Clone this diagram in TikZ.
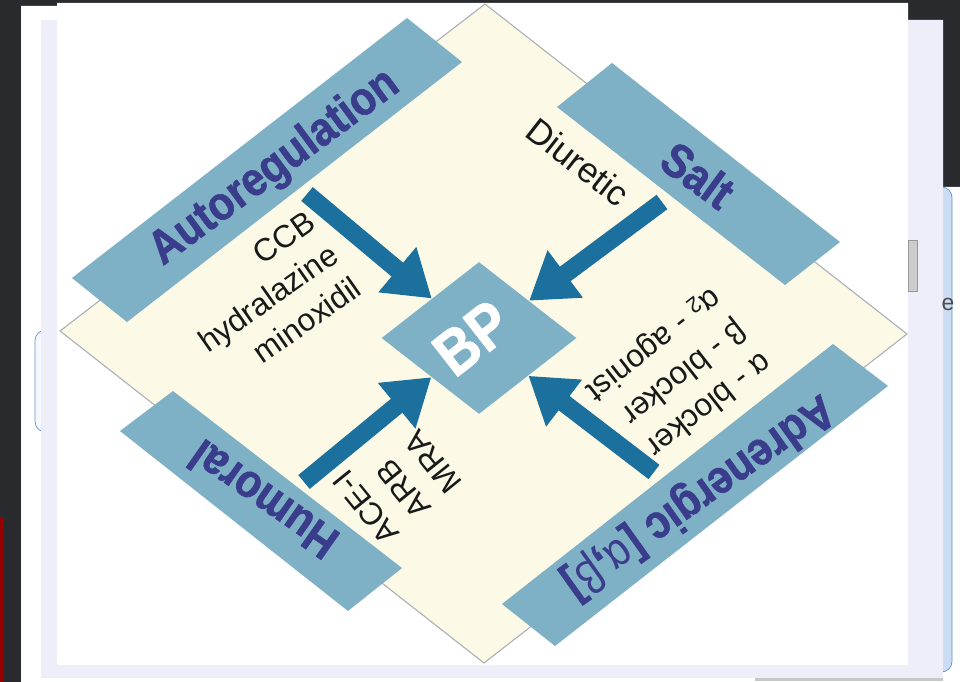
\documentclass[tikz,border=0pt]{standalone}
\usepackage{fontspec}
\setmainfont{Liberation Sans}
\newfontfamily\bandfont{Liberation Sans}[FakeStretch=0.88,BoldFeatures={FakeBold=1.2}]
\usepackage{tikz}
\usetikzlibrary{arrows.meta,shapes.geometric,positioning}
\usepackage{xcolor}
\definecolor{DarkBg}{RGB}{40,42,46}
\definecolor{PanelLav}{RGB}{238,238,248}
\definecolor{Cream}{RGB}{252,250,230}
\definecolor{EdgeGray}{RGB}{168,174,180}
\definecolor{BandBlue}{RGB}{126,176,198}
\definecolor{BandText}{RGB}{58,60,140}
\definecolor{ArrowBlue}{RGB}{27,112,157}
\definecolor{FrameBlue}{RGB}{96,146,214}
\definecolor{FrameFill}{RGB}{204,220,242}
\definecolor{DarkRed}{RGB}{150,0,0}
\tikzset{
  bandbox/.style={fill=BandBlue},
  bandtext/.style={text=BandText,inner sep=0pt,
    font=\bandfont\fontsize{27}{28}\selectfont\bfseries},
  drugtext/.style={text=black!90,inner sep=0pt,
    font=\fontsize{18}{23}\selectfont},
  bpbox/.style={diamond,fill=BandBlue,inner sep=0pt,
    minimum width=3.9cm,minimum height=3.04cm},
  bptext/.style={text=white,inner sep=0pt,
    font=\bandfont\fontsize{36}{36}\selectfont\bfseries},
  bigarrow/.style={draw=ArrowBlue,line width=0.36cm,
    -{Triangle[width=1.12cm,length=0.9cm]}}
}
\begin{document}
\begin{tikzpicture}[x=0.02cm,y=-0.02cm]
  \useasboundingbox (0,0) rectangle (960,682);
  % screen around the figure
  \fill[DarkBg] (0,0) rectangle (960,682);
  \fill[DarkRed] (0,517) rectangle (4,682);
  \fill[white] (21,6) -- (57,6) -- (57,3) -- (908,3) -- (908,20) -- (943,20)
    -- (943,187) -- (960,187) -- (960,682) -- (21,682) -- cycle;
  \draw[FrameBlue,fill=FrameFill,rounded corners=6] (900,187) rectangle (952,672);
  \draw[FrameBlue,fill=blue!3,rounded corners=6] (35,330) rectangle (80,432);
  \fill[PanelLav] (41,20) rectangle (943,678);
  \fill[black!22] (755,678) rectangle (943,681);
  \fill[white] (57,3) rectangle (908,665);
  \draw[black!40,fill=black!20] (908,240) rectangle (917,291);
  \node[text=black!70,font=\fontsize{13}{13}\selectfont,inner sep=0pt] (scr) at (948,304) {e};
  % diamond and bands
  \draw[EdgeGray,fill=Cream,line width=0.6pt] (485,4) -- (907,334) -- (484,663) -- (60,331) -- cycle;
  \fill[bandbox] (72,278) -- (407,18) -- (462,62) -- (127,322) -- cycle;
  \fill[bandbox] (612,63) -- (840,242) -- (785,285) -- (557,107) -- cycle;
  \fill[bandbox] (173,391) -- (402,568) -- (348,611) -- (120,431) -- cycle;
  \fill[bandbox] (833,344) -- (888,386) -- (555,646) -- (502,604) -- cycle;
  \node[bandtext,rotate=36.5] (autoreg) at (275,168) {Autoregulation};
  \node[bandtext,rotate=-36] (salt) at (698,175) {Salt};
  \node[bandtext,rotate=145] (humoral) at (263,500) {Humoral};
  \node[bandtext,rotate=-144.5] (adren) at (698,496)
    {Adrenergic [{\mdseries α},{\mdseries β}]};
  % centre
  \node[bpbox] (bp) at (479,338) {};
  \node[bptext,rotate=38] (bplabel) at (472,338) {BP};
  \node[drugtext,rotate=35,align=right] (ccb) at (268,298) {CCB\\hydralazine\\minoxidil};
  \node[drugtext,rotate=-38,font=\fontsize{20}{24}\selectfont] (diur) at (578,162) {Diuretic};
  \node[drugtext,rotate=129,align=left] (acei) at (397,482) {ACE-I\\ARB\\MRA};
  \node[drugtext,rotate=-142,align=left] (alpha) at (678,376)
    {α - blocker\\β - blocker\\α\textsubscript{2} - agonist};
  \coordinate (tl) at (307,194);
  \coordinate (tr) at (662,202);
  \coordinate (bl) at (304,482);
  \coordinate (br) at (654,472);
  \foreach \a in {tl,tr,bl,br}
    \draw[bigarrow] (\a) -- (bp);
\end{tikzpicture}
\end{document}
